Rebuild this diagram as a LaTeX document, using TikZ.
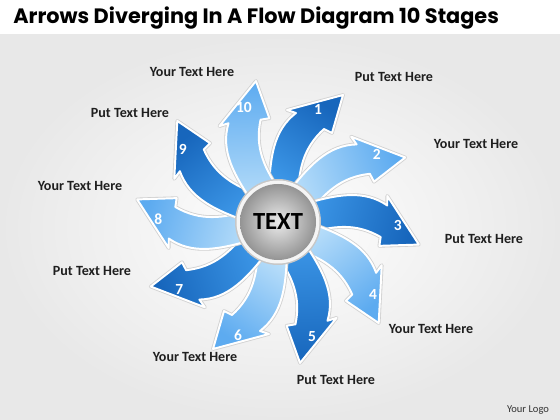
\documentclass[tikz,border=0pt]{standalone}
\usepackage{fontspec}
\setmainfont{Carlito}
\newfontfamily\titlefont{Poppins}
\definecolor{darkblue}{HTML}{1766BC}
\definecolor{midblue}{HTML}{3F9AEA}
\definecolor{paleblue}{HTML}{BCE0FA}
\definecolor{skyblue}{HTML}{5DABF0}
\tikzset{
  caption/.style={font=\bfseries\fontsize{10}{12}\selectfont, text=black!88},
  stagenum/.style={font=\bfseries\fontsize{11}{12}\selectfont, text=white},
}
% one curved arrow, pointing up and bending right; the hub is at the origin
\newcommand{\bentarrow}{(-9,20) .. controls (-9,66) and (-4,92) .. (18,109) -- (9,112) -- (65,127) -- (54,89) -- (46,93) .. controls (25,74) and (20,52) .. (20,20) -- cycle}
\begin{document}
\begin{tikzpicture}[x=0.025cm, y=0.025cm]
  \useasboundingbox (0,0) rectangle (560,420);
  \fill[white] (0,0) rectangle (560,420);
  \shade[inner color=white, outer color=black!9] (0,0) rectangle (560,385);

  \node[anchor=west, inner sep=0pt, font=\titlefont\bfseries\fontsize{14.8}{18}\selectfont] (title) at (13,402) {Arrows Diverging In A Flow Diagram 10 Stages};

  \foreach \k in {1,...,10}{
    \pgfmathsetmacro{\turn}{-36*(\k-1)}
    \pgfmathsetmacro{\shang}{-34-36*(\k-1)}
    \ifodd\k
      \colorlet{tipcol}{darkblue}\colorlet{basecol}{midblue}
    \else
      \colorlet{tipcol}{skyblue}\colorlet{basecol}{paleblue}
    \fi
    \begin{scope}[shift={(278,198)}, rotate=\turn]
      \draw[black!18, line width=2.6pt, line join=round] \bentarrow;
      \shade[top color=tipcol, bottom color=basecol, shading angle=\shang,
        draw=white, line width=1.4pt, line join=round] \bentarrow;
      \node[stagenum] (n\k) at (40,113) {\k};
    \end{scope}
  }

  % hub
  \fill[black!22] (278,198) circle (43);
  \fill[black!4] (278,198) circle (41.5);
  \shade[inner color=black!8, outer color=black!42] (278,198) circle (38);
  \node[font=\bfseries\fontsize{17.5}{20}\selectfont] (hub) at (278,198) {TEXT};

  \node[caption] (t10) at (192,348) {Your Text Here};
  \node[caption] (t1) at (394,343) {Put Text Here};
  \node[caption] (t9) at (130,307) {Put Text Here};
  \node[caption] (t2) at (476,276) {Your Text Here};
  \node[caption] (t8) at (80,234) {Your Text Here};
  \node[caption] (t3) at (484,181) {Put Text Here};
  \node[caption] (t7) at (92,149) {Put Text Here};
  \node[caption] (t4) at (431,91) {Your Text Here};
  \node[caption] (t6) at (195,63) {Your Text Here};
  \node[caption] (t5) at (336,40) {Put Text Here};

  \node[font=\fontsize{7.5}{9}\selectfont, text=black!80] (logo) at (528,10) {Your Logo};
\end{tikzpicture}
\end{document}
